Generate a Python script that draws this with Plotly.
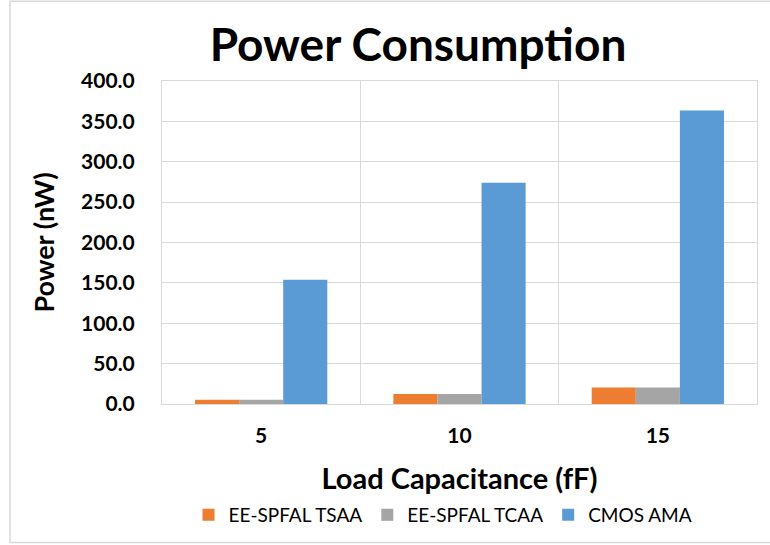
import plotly.graph_objects as go

categories = ["5", "10", "15"]
series_names = ["EE-SPFAL TSAA", "EE-SPFAL TCAA", "CMOS AMA"]
tsaa = [5.3, 12.3, 20.5]
tcaa = [5.3, 12.3, 20.5]
cmos = [154.0, 274.0, 363.5]
colors = ["#ED7D31", "#A5A5A5", "#5B9BD5"]
y_ticks = [0, 50, 100, 150, 200, 250, 300, 350, 400]

FONT = "Lato"
fig = go.Figure()
for name, vals, col in zip(series_names, [tsaa, tcaa, cmos], colors):
    fig.add_trace(go.Bar(x=categories, y=vals, name=name, marker_color=col,
                         marker_line_width=0))

W, H = 770, 545
L, R, T, B = 162, 13, 81, 140
pw, ph = W - L - R, H - T - B

fig.update_layout(
    width=W, height=H,
    margin=dict(l=L, r=R, t=T, b=B),
    paper_bgcolor="white", plot_bgcolor="white",
    barmode="group", bargap=0.333, bargroupgap=0,
    font=dict(family=FONT, color="black"),
    title=dict(text="<b>Power Consumption</b>", x=418 / W, xanchor="center",
               xref="container", y=1 - 45 / H, yref="container", yanchor="middle",
               font=dict(size=46, family=FONT, color="black")),
    showlegend=True,
    legend=dict(orientation="h", x=(443 - L) / pw, xanchor="center",
                y=(H - B - 515) / ph, yanchor="middle",
                font=dict(size=19, family=FONT, color="black"),
                itemwidth=30, traceorder="normal"),
    xaxis=dict(type="category", tickson="boundaries", showgrid=True,
               gridcolor="#d9d9d9", gridwidth=1, ticks="", showline=True,
               linecolor="#d9d9d9", linewidth=1, mirror=True,
               tickfont=dict(size=21, family=FONT), ticklabelstandoff=13,
               title=dict(text="<b>Load Capacitance (fF)</b>",
                          font=dict(size=29, family=FONT), standoff=22)),
    yaxis=dict(range=[0, 400], tickvals=y_ticks,
               ticktext=[f"<b>{v:.1f}</b>" for v in y_ticks],
               showgrid=True, gridcolor="#d9d9d9", gridwidth=1,
               zeroline=False, showline=True, linecolor="#d9d9d9",
               mirror=True, ticks="", tickfont=dict(size=21, family=FONT),
               ticklabelstandoff=22,
               title=dict(text="<b>Power (nW)</b>", font=dict(size=27, family=FONT),
                          standoff=18)),
    shapes=[dict(type="rect", xref="paper", yref="paper",
                 x0=(10 - L) / pw, x1=(W + 5 - L) / pw,
                 y0=(H - B - 544) / ph, y1=(H - B - 1) / ph,
                 line=dict(color="#d9d9d9", width=1.5), fillcolor="rgba(0,0,0,0)",
                 layer="below")],
)
fig.update_xaxes(ticktext=[f"<b>{c}</b>" for c in categories], tickvals=categories)

fig.write_html("out.html", config={"displayModeBar": False},
               post_script="document.body.style.margin='0';document.body.style.overflow='hidden';")
